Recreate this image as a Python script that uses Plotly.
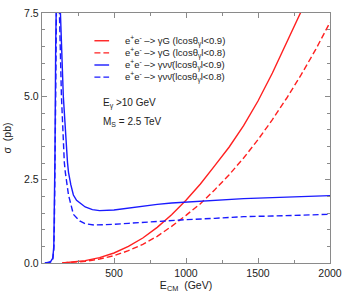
import plotly.graph_objects as go

# ---- data ----
e_red = [140, 200, 300, 400, 500, 600, 700, 800, 900, 1000, 1100, 1200, 1300,
         1400, 1500, 1600, 1700, 1800, 1900, 2000]
red_09 = [0.0, 0.02, 0.07, 0.16, 0.30, 0.50, 0.75, 1.07, 1.45, 1.88, 2.37, 2.92,
          3.48, 4.12, 4.86, 5.70, 6.60, 7.55, 8.65, 9.75]
red_08 = [0.0, 0.015, 0.05, 0.12, 0.22, 0.37, 0.56, 0.80, 1.10, 1.43, 1.78, 2.20,
          2.65, 3.15, 3.70, 4.30, 4.95, 5.65, 6.40, 7.22]

e_blue09 = [20, 40, 60, 75, 82, 86, 90, 95, 100, 110, 128, 148, 177, 184, 200,
            218, 240, 274, 300, 350, 400, 500, 600, 700, 800, 900, 1000, 1200,
            1400, 1600, 1800, 2000]
blue_09 = [0.0, 0.005, 0.04, 0.15, 0.5, 1.5, 3.2, 6.5, 9.0, 11.0, 7.5, 5.0, 3.02,
           2.72, 2.35, 2.04, 1.88, 1.75, 1.68, 1.60, 1.57, 1.59, 1.65, 1.71, 1.76,
           1.80, 1.83, 1.88, 1.93, 1.96, 1.99, 2.02]

e_blue08 = [20, 40, 60, 75, 82, 86, 90, 95, 100, 110, 121, 135, 155, 162, 184,
            200, 218, 262, 300, 363, 400, 500, 600, 700, 800, 900, 1000, 1200,
            1400, 1600, 1800, 2000]
blue_08 = [0.0, 0.005, 0.03, 0.12, 0.4, 1.2, 2.5, 5.0, 7.5, 9.0, 7.5, 5.0, 3.02,
           2.72, 2.04, 1.75, 1.46, 1.26, 1.18, 1.14, 1.14, 1.16, 1.19, 1.22, 1.25,
           1.28, 1.30, 1.34, 1.39, 1.41, 1.44, 1.46]

x_ticks = [500, 1000, 1500, 2000]
y_ticks = [0.0, 2.5, 5.0, 7.5]

legend_labels = [
    "e<sup>+</sup>e<sup>-</sup> \u2013> \u03b3G (lcos\u03b8<sub>\u03b3</sub>l<0.9)",
    "e<sup>+</sup>e<sup>-</sup> \u2013> \u03b3G (lcos\u03b8<sub>\u03b3</sub>l<0.8)",
    "e<sup>+</sup>e<sup>-</sup> \u2013> \u03b3\u03bd\u03bd\u0304(lcos\u03b8<sub>\u03b3</sub>l<0.9)",
    "e<sup>+</sup>e<sup>-</sup> \u2013> \u03b3\u03bd\u03bd\u0304(lcos\u03b8<sub>\u03b3</sub>l<0.8)",
]

RED = "#ff2020"
BLUE = "#1a1aff"
FONT = "Liberation Sans, Arial, sans-serif"

fig = go.Figure()
series = [
    (e_red, red_09, RED, "solid"),
    (e_red, red_08, RED, "6px,3px"),
    (e_blue09, blue_09, BLUE, "solid"),
    (e_blue08, blue_08, BLUE, "6px,3px"),
]
for (xs, ys, col, dash), name in zip(series, legend_labels):
    fig.add_trace(go.Scatter(x=xs, y=ys, mode="lines", name=name,
                             line=dict(color=col, width=1.4, dash=dash),
                             showlegend=False, hoverinfo="skip"))

# manual legend (short line samples like the original)
leg_y0 = 0.889   # paper y of first row
leg_dy = 0.0485
for i, ((xs, ys, col, dash), name) in enumerate(zip(series, legend_labels)):
    y = leg_y0 - i * leg_dy
    fig.add_shape(type="line", xref="paper", yref="paper",
                  x0=0.182, x1=0.233, y0=y, y1=y,
                  line=dict(color=col, width=1.4, dash=dash))
    fig.add_annotation(xref="paper", yref="paper", x=0.28, y=y, text=name,
                       showarrow=False, xanchor="left", yanchor="middle",
                       font=dict(size=9.5, color="#222", family=FONT))

fig.add_annotation(xref="paper", yref="paper", x=0.205, y=0.638,
                   text="E<sub>\u03b3</sub> >10 GeV", showarrow=False,
                   xanchor="left", yanchor="middle",
                   font=dict(size=10, color="#222", family=FONT))
fig.add_annotation(xref="paper", yref="paper", x=0.205, y=0.565,
                   text="M<sub>S</sub> = 2.5 TeV", showarrow=False,
                   xanchor="left", yanchor="middle",
                   font=dict(size=10, color="#222", family=FONT))

axis_common = dict(showline=True, linecolor="#8a8a8a", linewidth=1.2,
                   mirror="allticks", ticks="inside", ticklen=5,
                   tickcolor="#8a8a8a", tickwidth=1, showgrid=False,
                   zeroline=False,
                   tickfont=dict(size=10.5, color="#222", family=FONT))

fig.update_xaxes(range=[0, 2000], tickmode="array", tickvals=x_ticks,
                 minor=dict(ticks="inside", ticklen=3, tick0=0, dtick=250,
                            tickcolor="#8a8a8a", showgrid=False),
                 title=dict(text="E<sub>CM</sub>  (GeV)", standoff=2,
                            font=dict(size=10.5, color="#222", family=FONT)),
                 **axis_common)
fig.update_yaxes(range=[0, 7.5], tickmode="array", tickvals=y_ticks,
                 tickformat=".1f",
                 minor=dict(ticks="inside", ticklen=3, tick0=0, dtick=0.5,
                            tickcolor="#8a8a8a", showgrid=False),
                 title=dict(text="\u03c3  (pb)", standoff=10,
                            font=dict(size=10.5, color="#222", family=FONT)),
                 **axis_common)

fig.update_layout(width=349, height=300,
                  margin=dict(l=41, r=12, t=7, b=37),
                  plot_bgcolor="white", paper_bgcolor="white",
                  showlegend=False, hovermode=False)

fig.write_html("out.html",
               config={"displayModeBar": False, "staticPlot": True},
               post_script="document.body.style.margin='0';"
                           "document.body.style.padding='0';")
